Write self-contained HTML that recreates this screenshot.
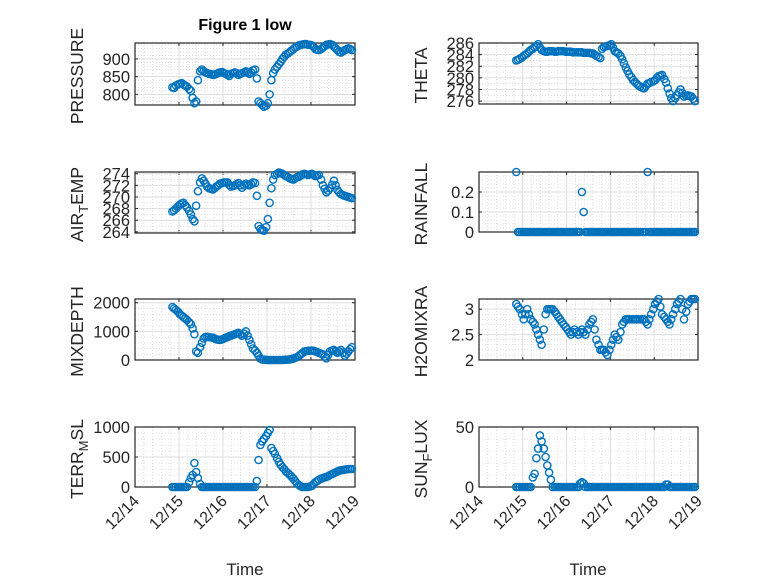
<!DOCTYPE html>
<html><head><meta charset="utf-8"><style>
body{margin:0;background:#fff;}
svg{display:block;font-family:"Liberation Sans","DejaVu Sans",sans-serif;}
</style></head><body>
<svg id="fig" width="778" height="583" viewBox="0 0 778 583">
<rect width="778" height="583" fill="#fff"/>
<text x="245" y="30" text-anchor="middle" font-size="16" font-weight="bold" fill="#000">Figure 1 low</text>
<text x="245" y="575" text-anchor="middle" font-size="17" fill="#262626">Time</text>
<text x="588" y="575" text-anchor="middle" font-size="17" fill="#262626">Time</text>
</svg>
<script>
const times=[14.85,14.89,14.93,14.98,15.02,15.06,15.10,15.14,15.18,15.23,15.27,15.31,15.35,15.39,15.43,15.48,15.52,15.56,15.60,15.64,15.68,15.73,15.77,15.81,
15.85,15.89,15.93,15.98,16.02,16.06,16.10,16.14,16.18,16.23,16.27,16.31,16.35,16.39,16.43,16.48,16.52,16.56,16.60,16.64,16.68,16.73,16.77,16.81,
16.85,16.89,16.93,16.98,17.02,17.06,17.10,17.14,17.18,17.23,17.27,17.31,17.35,17.39,17.43,17.48,17.52,17.56,17.60,17.64,17.68,17.73,17.77,17.81,
17.85,17.89,17.93,17.98,18.02,18.06,18.10,18.14,18.18,18.23,18.27,18.31,18.35,18.39,18.43,18.48,18.52,18.56,18.60,18.64,18.68,18.73,18.77,18.81,
18.85,18.89,18.93];
const xTickLabels=["12/14","12/15","12/16","12/17","12/18","12/19"];
const pressure=[820,818,825,828,830,832,828,825,822,815,810,790,775,780,840,865,870,866,862,860,858,857,855,856,
858,860,862,863,860,858,855,852,858,860,862,860,855,858,860,862,865,862,858,862,868,870,845,780,
775,770,765,768,775,800,840,860,870,878,885,892,900,906,912,916,920,924,928,932,935,938,940,941,
942,942,940,940,938,934,928,926,925,928,932,936,940,941,942,940,935,930,925,920,918,922,925,928,
930,928,925];
const theta=[283,283.1,283.3,283.5,283.8,284,284.2,284.5,284.8,285,285.3,285.5,285.8,285.2,284.8,284.6,284.5,284.5,284.6,284.6,284.6,284.5,284.5,284.6,
284.6,284.6,284.6,284.5,284.5,284.5,284.5,284.4,284.4,284.4,284.4,284.4,284.4,284.3,284.3,284.3,284.3,284.2,284.2,284,283.8,283.6,283.4,285,
285.3,285.4,285.5,285.6,285.8,285.2,284.6,284.4,284.2,283.8,283.2,282.5,281.8,281.2,280.6,280.1,279.6,279.3,279,278.7,278.5,278.3,278.2,278.6,
279,279.1,279.3,279.4,279.6,280,280.3,280.4,280.5,279.8,279.2,278.2,277.3,276.5,276,276.5,277,277.5,278,277.4,276.8,276.9,277,276.9,
276.8,276.4,276];
const airTemp=[267.5,267.7,268,268.4,268.7,268.9,269,268.6,268.2,267.6,267,266.2,265.8,268.5,271,272.5,273.2,272.8,272.3,271.8,271.5,271.4,271.3,271.5,
271.8,272,272.3,272.4,272.5,272.5,272.5,272.1,271.8,271.9,272,272.2,272.4,272,271.6,272,272.3,272.1,272,272.2,272.5,272.4,270.2,265,
264.5,264.3,264.2,264.8,266.2,269,271.5,273,273.8,274,274.2,274.1,274,273.8,273.6,273.4,273.2,273.1,273,273.2,273.4,273.5,273.7,273.9,
274,273.9,273.8,273.9,274,273.8,273.6,273.7,273.8,273,272,271.4,270.8,271.1,271.5,272.1,272.8,272,271.2,270.8,270.5,270.3,270.2,270.1,
270,269.9,269.8];
const rainfall=[0.3,0,0,0,0,0,0,0,0,0,0,0,0,0,0,0,0,0,0,0,0,0,0,0,
0,0,0,0,0,0,0,0,0,0,0,0,0.2,0.1,0,0,0,0,0,0,0,0,0,0,
0,0,0,0,0,0,0,0,0,0,0,0,0,0,0,0,0,0,0,0,0,0,0,0,
0.3,0,0,0,0,0,0,0,0,0,0,0,0,0,0,0,0,0,0,0,0,0,0,0,
0,0,0];
const mixDepth=[1850,1800,1750,1680,1600,1550,1500,1450,1400,1320,1250,1100,900,300,250,450,600,750,800,810,800,790,780,750,
720,710,700,720,750,780,800,830,850,880,900,930,950,900,850,920,1000,850,700,550,400,330,250,150,
50,20,10,5,0,0,0,0,0,0,0,0,0,5,10,15,20,35,50,75,100,150,200,250,
300,310,320,325,330,320,300,280,250,220,200,120,60,180,300,330,350,300,250,300,350,250,150,220,
300,380,450];
const h2oMix=[3.1,3.05,3.0,2.9,2.8,2.9,3.0,2.9,2.8,2.75,2.7,2.6,2.5,2.4,2.3,2.6,2.9,3.0,3.0,3.0,3.0,2.95,2.9,2.85,
2.8,2.75,2.7,2.65,2.6,2.55,2.5,2.55,2.6,2.55,2.5,2.55,2.6,2.55,2.5,2.6,2.7,2.75,2.8,2.6,2.4,2.3,2.2,2.2,
2.2,2.15,2.1,2.2,2.3,2.4,2.5,2.45,2.4,2.55,2.7,2.75,2.8,2.8,2.8,2.8,2.8,2.8,2.8,2.8,2.8,2.8,2.8,2.75,
2.7,2.8,2.9,3.0,3.1,3.15,3.2,3.05,2.9,2.85,2.8,2.75,2.7,2.8,2.9,3.0,3.1,3.15,3.2,3.0,2.8,2.95,3.1,3.15,
3.2,3.2,3.2];
const terrMsl=[0,0,0,0,0,0,0,0,0,80,150,200,400,250,150,50,0,0,0,0,0,0,0,0,
0,0,0,0,0,0,0,0,0,0,0,0,0,0,0,0,0,0,0,0,0,0,100,450,
700,760,800,850,900,950,650,600,550,480,420,370,330,300,260,230,200,170,140,100,60,30,10,0,
0,0,0,10,20,50,80,100,120,140,150,160,170,180,200,215,230,245,260,270,280,285,290,295,
300,300,300];
const sunFlux=[0,0,0,0,0,0,0,0,0,8,11,24,32,43,38,32,25,18,12,6,0,0,0,0,
0,0,0,0,0,0,0,0,0,0,0,3,4,3,0,0,0,0,0,0,0,0,0,0,
0,0,0,0,0,0,0,0,0,0,0,0,0,0,0,0,0,0,0,0,0,0,0,0,
0,0,0,0,0,0,0,0,0,0,2,2,0,0,0,0,0,0,0,0,0,0,0,0,
0,0,0];
const pressureTicks=[800,850,900];
const thetaTicks=[276,278,280,282,284,286];
const airTicks=[264,266,268,270,272,274];
const rainTicks=[0,0.1,0.2];
const mixTicks=[0,1000,2000];
const h2oTicks=[2,2.5,3];
const terrTicks=[0,500,1000];
const sunTicks=[0,50];

const NS="http://www.w3.org/2000/svg";
const svg=document.getElementById('fig');
function mk(tag,attrs,parent){const e=document.createElementNS(NS,tag);for(const k in attrs)e.setAttribute(k,attrs[k]);(parent||svg).appendChild(e);return e;}

const panels=[
 {name:'pressure',x:135,y:43,w:220,h:62,ymin:770,ymax:945,ticks:pressureTicks,data:pressure,label:['PRESSURE'],minor:5,xl:false},
 {name:'theta',x:479,y:43,w:219,h:61,ymin:275.5,ymax:286,ticks:thetaTicks,data:theta,label:['THETA'],minor:2,xl:false},
 {name:'air-temp',x:135,y:172,w:220,h:61,ymin:263.8,ymax:274.3,ticks:airTicks,data:airTemp,label:['AIR','T','EMP'],minor:2,xl:false},
 {name:'rainfall',x:479,y:172,w:219,h:60,ymin:0,ymax:0.3,ticks:rainTicks,data:rainfall,label:['RAINFALL'],minor:5,xl:false},
 {name:'mixdepth',x:135,y:299,w:220,h:61,ymin:0,ymax:2130,ticks:mixTicks,data:mixDepth,label:['MIXDEPTH'],minor:5,xl:false},
 {name:'h2omixra',x:479,y:299,w:219,h:61,ymin:2,ymax:3.2,ticks:h2oTicks,data:h2oMix,label:['H2OMIXRA'],minor:5,xl:false},
 {name:'terr-msl',x:135,y:427,w:220,h:60,ymin:0,ymax:1000,ticks:terrTicks,data:terrMsl,label:['TERR','M','SL'],minor:5,xl:true},
 {name:'sun-flux',x:479,y:427,w:219,h:60,ymin:0,ymax:50,ticks:sunTicks,data:sunFlux,label:['SUN','F','LUX'],minor:5,xl:true}
];

panels.forEach(p=>{
 const g=mk('g',{});
 
 
 const xs=t=>p.x+(t-14)/5*p.w;
 const ys=v=>p.y+p.h-(v-p.ymin)/(p.ymax-p.ymin)*p.h;
 for(let d=14;d<19;d++){for(let k=1;k<5;k++){const X=xs(d+k/5);mk('line',{x1:X,x2:X,y1:p.y,y2:p.y+p.h,stroke:'#c8c8c8','stroke-width':0.6,'stroke-dasharray':'1,2'},g);}}
 const step=p.ticks[1]-p.ticks[0];
 const mstep=step/p.minor;
 for(let v=p.ticks[0]-step;v<=p.ymax+1e-9;v+=mstep){if(v<p.ymin)continue;const Y=ys(v);mk('line',{x1:p.x,x2:p.x+p.w,y1:Y,y2:Y,stroke:'#c8c8c8','stroke-width':0.6,'stroke-dasharray':'1,2'},g);}
 xTickLabels.forEach((lab,i)=>{const X=xs(14+i);mk('line',{x1:X,x2:X,y1:p.y,y2:p.y+p.h,stroke:'#dedede','stroke-width':1},g);
   mk('line',{x1:X,x2:X,y1:p.y+p.h,y2:p.y+p.h-3,stroke:'#262626','stroke-width':1},g);
   mk('line',{x1:X,x2:X,y1:p.y,y2:p.y+3,stroke:'#262626','stroke-width':1},g);
   if(p.xl){const t=mk('text',{x:X+5,y:p.y+p.h+15,'text-anchor':'end','font-size':16,fill:'#262626',transform:`rotate(-45 ${X+5} ${p.y+p.h+15})`},g);t.textContent=lab;
     
     }
 });
 p.ticks.forEach(v=>{const Y=ys(v);mk('line',{x1:p.x,x2:p.x+p.w,y1:Y,y2:Y,stroke:'#dedede','stroke-width':1},g);
   mk('line',{x1:p.x,x2:p.x+3,y1:Y,y2:Y,stroke:'#262626','stroke-width':1},g);
   mk('line',{x1:p.x+p.w,x2:p.x+p.w-3,y1:Y,y2:Y,stroke:'#262626','stroke-width':1},g);
   const t=mk('text',{x:p.x-5,y:Y+6,'text-anchor':'end','font-size':16.5,fill:'#262626'},g);t.textContent=String(v);
   
   
 });
 const b=mk('rect',{x:p.x,y:p.y,width:p.w,height:p.h,fill:'none',stroke:'#262626','stroke-width':1.2},g);
 
 
 const lx=p.x-52, ly=p.y+p.h/2+2;
 const yl=mk('text',{x:lx,y:ly,'text-anchor':'middle','font-size':17.5,fill:'#262626',transform:`rotate(-90 ${lx} ${ly})`},g);
 
 
 if(p.label.length===1){yl.textContent=p.label[0];}
 else{const a=mk('tspan',{},yl);a.textContent=p.label[0];const s=mk('tspan',{'font-size':13,dy:5},yl);s.textContent=p.label[1];const c=mk('tspan',{dy:-5},yl);c.textContent=p.label[2];}
 times.forEach((t,i)=>{const m=mk('circle',{cx:xs(t),cy:ys(p.data[i]),r:3.6,fill:'none',stroke:'#0072BD','stroke-width':1.4},g);
   
   });
});
</script>
</body></html>
